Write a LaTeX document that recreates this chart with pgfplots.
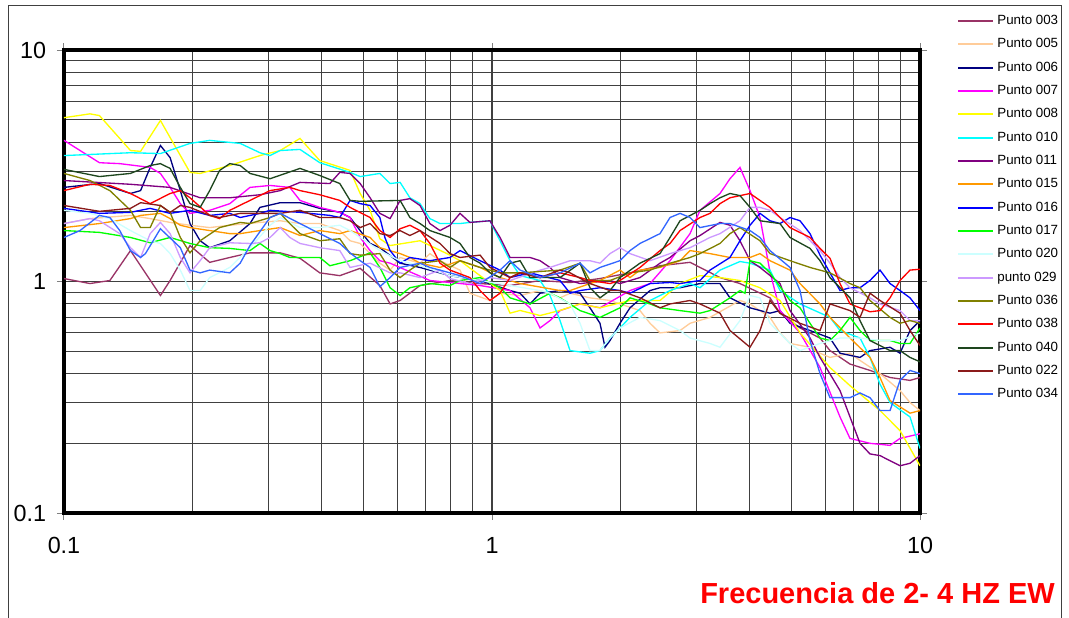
\documentclass[border=0pt]{standalone}
\usepackage{fontspec}
\setmainfont{Liberation Sans}
\usepackage{pgfplots}
\pgfplotsset{compat=1.18}
\definecolor{c003}{RGB}{153,51,102}
\definecolor{c005}{RGB}{255,204,153}
\definecolor{c006}{RGB}{0,0,128}
\definecolor{c007}{RGB}{255,0,255}
\definecolor{c008}{RGB}{255,255,0}
\definecolor{c010}{RGB}{0,255,255}
\definecolor{c011}{RGB}{128,0,128}
\definecolor{c015}{RGB}{255,153,0}
\definecolor{c016}{RGB}{0,0,255}
\definecolor{c017}{RGB}{0,255,0}
\definecolor{c020}{RGB}{204,255,255}
\definecolor{c029}{RGB}{204,153,255}
\definecolor{c036}{RGB}{128,128,0}
\definecolor{c038}{RGB}{255,0,0}
\definecolor{c040}{RGB}{30,70,30}
\definecolor{c022}{RGB}{139,26,26}
\definecolor{c034}{RGB}{51,102,255}
\begin{document}
\begin{tikzpicture}
\useasboundingbox (0,0) rectangle (801.75pt,-462.75pt);
\draw[black!75, line width=0.75pt] (6pt,-480pt) -- (6pt,-4pt) -- (795.75pt,-4pt) -- (795.75pt,-480pt);
\begin{axis}[
  at={(48pt,-384.75pt)}, anchor=south west,
  scale only axis, width=642pt, height=347.25pt,
  xmode=log, ymode=log,
  xmin=0.1, xmax=10, ymin=0.1, ymax=10,
  xtick={0.1,1,10}, xticklabels={0.1,1,10},
  ytick={0.1,1,10}, yticklabels={0.1,1,10},
  minor xtick={0.2,0.3,0.4,0.5,0.6,0.7,0.8,0.9,2,3,4,5,6,7,8,9},
  minor ytick={0.2,0.3,0.4,0.5,0.6,0.7,0.8,0.9,2,3,4,5,6,7,8,9},
  grid=both,
  major grid style={black!75, line width=0.8pt},
  minor grid style={black!75, line width=0.8pt},
  axis line style={line width=2.6pt},
  tick align=outside, major tick length=5.25pt, minor tick length=0pt,
  tick style={gray, line width=0.75pt},
  ticklabel style={font=\fontsize{17.5}{20}\selectfont, inner sep=0pt},
  /pgf/number format/assume math mode=true,
  xticklabel style={anchor=north, yshift=-13pt},
  yticklabel style={anchor=east, xshift=-8pt},
  legend cell align=left,
  legend style={draw=none, fill=none, at={(axis description cs:1.0388,1)}, anchor=north west, yshift=28.75pt,
    font=\fontsize{10}{12}\selectfont, row sep=8pt, column sep=2.25pt,
    nodes={inner sep=0pt, text height=7.5pt, text depth=2pt}},
  legend image code/.code={\draw[#1, line width=1.4pt] (0pt,0pt) -- (26.25pt,0pt);},
  every axis plot/.append style={line width=1pt},
]
\addplot[c003] coordinates {(0.1,1.03)(0.115,0.98)(0.128,1.01)(0.143,1.36)(0.168,0.87)(0.177,1.01)(0.197,1.43)(0.219,1.21)(0.244,1.27)(0.272,1.33)(0.32,1.33)(0.356,1.26)(0.396,1.09)(0.441,1.06)(0.492,1.14)(0.547,0.961)(0.578,0.8)(0.61,0.828)(0.679,0.961)(0.798,1.01)(0.938,0.98)(1.102,0.961)(1.295,1.01)(1.522,0.99)(1.788,1.03)(2.101,1.09)(2.469,1.17)(2.902,1.21)(3.41,1.04)(3.797,0.98)(4.462,0.85)(4.709,0.73)(5.244,0.63)(5.84,0.57)(6.162,0.503)(6.862,0.44)(7.642,0.413)(8.511,0.385)(9.477,0.374)(10,0.385)};
\addlegendentry{Punto 003}
\addplot[c005] coordinates {(0.1,1.78)(0.115,1.87)(0.143,1.93)(0.159,1.87)(0.177,1.80)(0.197,1.75)(0.219,1.71)(0.244,1.75)(0.287,1.80)(0.32,1.83)(0.356,1.78)(0.396,1.78)(0.441,1.66)(0.466,1.50)(0.492,1.46)(0.547,1.20)(0.578,1.12)(0.61,1.27)(0.679,1.20)(0.716,1.32)(0.756,1.23)(0.842,1.12)(0.888,0.89)(0.989,0.828)(1.044,0.89)(1.163,0.87)(1.295,0.914)(1.442,0.85)(1.522,0.89)(1.694,0.85)(1.887,0.828)(1.991,0.80)(2.217,0.749)(2.34,0.66)(2.469,0.60)(2.75,0.614)(2.902,0.66)(3.231,0.70)(3.797,0.828)(4.007,0.80)(4.462,0.70)(4.709,0.60)(4.969,0.54)(5.534,0.52)(5.84,0.49)(6.162,0.47)(6.862,0.49)(7.242,0.456)(8.065,0.40)(8.981,0.338)(9.477,0.30)(10,0.277)};
\addlegendentry{Punto 005}
\addplot[c006] coordinates {(0.1,2.55)(0.121,2.65)(0.143,2.40)(0.151,2.47)(0.159,3.11)(0.168,3.87)(0.177,3.43)(0.187,2.47)(0.197,1.78)(0.208,1.50)(0.219,1.40)(0.244,1.50)(0.272,1.78)(0.287,2.09)(0.32,2.19)(0.356,2.19)(0.396,2.07)(0.441,1.99)(0.466,1.89)(0.492,1.66)(0.519,1.46)(0.547,1.40)(0.61,1.20)(0.679,1.15)(0.798,1.06)(0.938,1.01)(1.102,0.914)(1.163,0.89)(1.227,0.80)(1.295,0.89)(1.442,0.914)(1.606,0.89)(1.694,0.77)(1.788,0.66)(1.837,0.52)(1.887,0.556)(1.991,0.66)(2.101,0.77)(2.34,0.914)(2.469,0.94)(2.75,0.94)(3.062,0.98)(3.41,0.98)(3.598,0.85)(4.007,0.77)(4.462,0.73)(4.709,0.749)(4.969,0.66)(5.534,0.614)(6.162,0.57)(6.503,0.49)(7.242,0.47)(7.642,0.503)(8.511,0.52)(8.981,0.49)(9.477,0.614)(10,0.678)};
\addlegendentry{Punto 006}
\addplot[c007] coordinates {(0.1,4.07)(0.121,3.26)(0.135,3.23)(0.159,3.11)(0.168,2.93)(0.177,2.55)(0.187,2.17)(0.197,1.97)(0.219,2.03)(0.244,2.17)(0.272,2.55)(0.303,2.60)(0.337,2.55)(0.356,2.24)(0.396,2.09)(0.441,1.99)(0.466,1.89)(0.492,1.55)(0.519,1.36)(0.547,1.23)(0.578,1.20)(0.716,1.01)(0.798,0.99)(0.938,0.961)(1.102,0.914)(1.227,0.77)(1.295,0.63)(1.366,0.678)(1.442,0.749)(1.606,0.80)(1.788,0.77)(2.101,0.914)(2.34,0.98)(2.606,1.23)(2.902,1.61)(3.062,2.03)(3.41,2.40)(3.598,2.78)(3.797,3.11)(4.007,2.47)(4.228,1.89)(4.462,1.1)(4.709,0.749)(5.244,0.60)(5.84,0.425)(6.503,0.26)(6.862,0.21)(7.642,0.20)(8.511,0.196)(8.981,0.21)(10,0.22)};
\addlegendentry{Punto 007}
\addplot[c008] coordinates {(0.1,5.1)(0.115,5.3)(0.121,5.21)(0.143,3.68)(0.151,3.65)(0.168,4.96)(0.197,2.96)(0.208,2.93)(0.244,3.17)(0.287,3.50)(0.32,3.68)(0.356,4.15)(0.396,3.33)(0.466,3.02)(0.492,2.40)(0.519,2.03)(0.547,1.53)(0.578,1.43)(0.679,1.50)(0.798,1.30)(0.842,1.23)(0.938,1.06)(1.044,0.914)(1.102,0.73)(1.163,0.75)(1.295,0.713)(1.442,0.75)(1.606,0.80)(1.788,0.77)(2.101,0.828)(2.469,0.828)(2.75,0.98)(3.062,1.06)(3.41,1.04)(3.797,1.01)(4.228,0.94)(4.709,0.828)(5.244,0.60)(6.162,0.425)(6.862,0.355)(8.065,0.277)(8.981,0.227)(10,0.16)};
\addlegendentry{Punto 008}
\addplot[c010] coordinates {(0.1,3.50)(0.143,3.60)(0.168,3.57)(0.197,3.95)(0.219,4.07)(0.258,3.95)(0.287,3.60)(0.303,3.50)(0.32,3.68)(0.356,3.72)(0.396,3.26)(0.466,2.96)(0.492,2.84)(0.547,2.93)(0.578,2.65)(0.61,2.68)(0.643,2.30)(0.679,2.17)(0.716,1.87)(0.756,1.78)(0.842,1.78)(0.888,1.80)(0.989,1.83)(1.044,1.50)(1.102,1.23)(1.163,1.06)(1.295,1.01)(1.366,0.87)(1.442,0.678)(1.522,0.503)(1.694,0.49)(1.788,0.503)(1.887,0.57)(1.991,0.63)(2.101,0.70)(2.34,0.828)(2.606,0.914)(2.902,0.98)(3.062,0.94)(3.41,1.12)(3.797,1.22)(4.007,1.20)(4.462,1.12)(4.709,0.914)(5.244,0.80)(6.162,0.70)(6.503,0.614)(7.242,0.57)(7.642,0.47)(8.065,0.36)(8.511,0.30)(9.477,0.26)(10,0.19)};
\addlegendentry{Punto 010}
\addplot[c011] coordinates {(0.1,2.73)(0.143,2.63)(0.177,2.55)(0.208,2.30)(0.244,2.30)(0.287,2.37)(0.32,2.47)(0.356,2.68)(0.418,2.65)(0.441,2.96)(0.466,2.93)(0.492,2.65)(0.519,2.30)(0.547,1.97)(0.578,1.87)(0.61,2.24)(0.643,2.28)(0.679,2.13)(0.716,1.78)(0.756,1.66)(0.798,1.75)(0.842,1.97)(0.888,1.80)(0.989,1.83)(1.044,1.55)(1.102,1.27)(1.227,1.27)(1.295,1.23)(1.366,1.15)(1.442,1.04)(1.606,0.98)(1.887,1.01)(1.991,0.98)(2.217,1.04)(2.469,1.20)(2.606,1.27)(2.902,1.50)(3.062,1.58)(3.41,1.80)(3.598,1.75)(3.797,1.50)(4.007,1.23)(4.228,1.15)(4.709,0.98)(4.969,0.749)(5.534,0.57)(5.84,0.47)(6.503,0.338)(6.862,0.26)(7.242,0.20)(7.642,0.18)(8.065,0.177)(8.981,0.16)(9.477,0.164)(10,0.177)};
\addlegendentry{Punto 011}
\addplot[c015] coordinates {(0.1,1.71)(0.121,1.78)(0.143,1.87)(0.151,1.93)(0.168,1.97)(0.177,1.87)(0.187,1.75)(0.197,1.71)(0.219,1.66)(0.244,1.61)(0.258,1.61)(0.287,1.66)(0.32,1.71)(0.356,1.58)(0.396,1.66)(0.441,1.61)(0.466,1.66)(0.519,1.55)(0.547,1.40)(0.61,1.32)(0.643,1.27)(0.679,1.20)(0.756,1.15)(0.842,1.23)(0.938,1.15)(1.044,1.04)(1.163,0.98)(1.442,0.914)(1.522,0.914)(1.694,0.98)(1.788,1.01)(1.991,1.12)(2.101,1.04)(2.217,1.12)(2.469,1.15)(2.75,1.23)(2.902,1.36)(3.231,1.32)(3.598,1.27)(4.007,1.27)(4.228,1.32)(4.462,1.23)(4.969,1.12)(5.244,0.98)(5.84,0.80)(6.162,0.70)(6.862,0.57)(7.642,0.47)(8.065,0.385)(8.511,0.306)(9.477,0.27)(10,0.277)};
\addlegendentry{Punto 015}
\addplot[c016] coordinates {(0.1,2.07)(0.121,1.97)(0.143,1.99)(0.159,2.07)(0.177,1.97)(0.197,2.03)(0.219,1.93)(0.244,1.97)(0.258,1.89)(0.287,1.97)(0.303,2.03)(0.356,1.99)(0.418,1.93)(0.441,1.89)(0.466,2.24)(0.492,2.17)(0.519,2.13)(0.547,1.89)(0.562,1.55)(0.578,1.36)(0.61,1.20)(0.643,1.27)(0.716,1.23)(0.798,1.27)(0.842,1.36)(0.938,1.23)(1.044,1.12)(1.102,1.04)(1.227,1.09)(1.442,1.01)(1.522,0.89)(1.606,0.914)(1.788,0.94)(1.991,0.914)(2.101,0.89)(2.34,0.98)(2.606,0.99)(2.75,0.98)(3.062,1.01)(3.231,1.12)(3.598,1.27)(3.797,1.50)(4.007,1.75)(4.228,1.97)(4.462,1.83)(4.709,1.78)(4.969,1.89)(5.244,1.83)(5.534,1.61)(5.84,1.30)(6.162,1.09)(6.503,0.914)(6.862,0.94)(7.242,0.94)(7.642,1.01)(8.065,1.12)(8.511,0.98)(8.981,0.914)(9.477,0.85)(10,0.749)};
\addlegendentry{Punto 016}
\addplot[c017] coordinates {(0.1,1.66)(0.121,1.63)(0.143,1.55)(0.159,1.47)(0.177,1.55)(0.197,1.46)(0.219,1.40)(0.244,1.39)(0.272,1.36)(0.287,1.46)(0.303,1.36)(0.32,1.32)(0.337,1.27)(0.396,1.27)(0.418,1.17)(0.466,1.23)(0.519,1.33)(0.547,1.15)(0.578,0.94)(0.61,0.87)(0.643,0.94)(0.716,0.98)(0.798,0.961)(0.842,1.01)(0.938,1.04)(1.044,0.94)(1.102,0.85)(1.227,0.80)(1.366,0.89)(1.442,0.85)(1.606,0.749)(1.788,0.70)(1.991,0.77)(2.101,0.85)(2.34,0.80)(2.469,0.77)(2.75,0.749)(3.062,0.73)(3.231,0.749)(3.598,0.85)(3.797,0.914)(3.9,0.89)(4.007,1.23)(4.228,1.20)(4.462,1.09)(4.969,0.828)(5.244,0.77)(5.534,0.66)(5.84,0.57)(6.162,0.556)(6.503,0.614)(6.862,0.70)(7.242,0.614)(7.642,0.556)(8.511,0.556)(8.981,0.54)(9.477,0.54)(10,0.63)};
\addlegendentry{Punto 017}
\addplot[c020] coordinates {(0.1,2.03)(0.115,1.97)(0.128,1.87)(0.143,1.66)(0.159,1.50)(0.168,1.46)(0.177,1.32)(0.187,1.12)(0.197,0.914)(0.208,0.914)(0.219,1.04)(0.244,1.15)(0.272,1.40)(0.303,1.75)(0.32,1.89)(0.356,1.71)(0.396,1.71)(0.441,1.75)(0.466,1.66)(0.492,1.55)(0.547,1.36)(0.61,1.23)(0.679,1.17)(0.798,1.06)(0.938,1.01)(1.102,0.961)(1.295,0.914)(1.366,0.89)(1.522,0.80)(1.606,0.66)(1.694,0.503)(1.788,0.503)(1.887,0.57)(1.991,0.63)(2.217,0.70)(2.469,0.678)(2.75,0.614)(2.902,0.57)(3.231,0.54)(3.41,0.52)(3.797,0.678)(4.007,0.87)(4.228,0.85)(4.462,0.66)(4.969,0.54)(5.244,0.503)(5.84,0.54)(6.503,0.57)(7.242,0.57)(8.065,0.556)(8.981,0.556)(10,0.60)};
\addlegendentry{Punto 020}
\addplot[c029] coordinates {(0.1,1.78)(0.115,1.87)(0.121,1.83)(0.135,1.61)(0.143,1.40)(0.151,1.27)(0.159,1.61)(0.168,1.80)(0.177,1.61)(0.187,1.27)(0.197,1.09)(0.208,1.23)(0.219,1.40)(0.244,1.47)(0.272,1.46)(0.287,1.47)(0.303,1.55)(0.32,1.71)(0.337,1.55)(0.356,1.46)(0.396,1.40)(0.441,1.36)(0.466,1.15)(0.519,1.20)(0.578,1.09)(0.61,1.09)(0.679,1.04)(0.756,1.12)(0.798,1.03)(0.888,0.98)(0.989,1.04)(1.102,1.01)(1.295,1.12)(1.366,1.15)(1.522,1.23)(1.694,1.23)(1.788,1.20)(1.887,1.32)(1.991,1.40)(2.101,1.32)(2.34,1.23)(2.606,1.32)(2.902,1.40)(3.231,1.55)(3.41,1.61)(3.797,1.83)(4.007,2.09)(4.228,2.09)(4.462,2.03)(4.709,1.89)(5.244,1.66)(5.84,1.36)(6.162,1.20)(6.503,1.04)(6.862,0.94)(7.642,0.85)(8.065,0.80)(8.981,0.749)(9.477,0.678)(10,0.678)};
\addlegendentry{punto 029}
\addplot[c036] coordinates {(0.1,2.93)(0.115,2.73)(0.128,2.47)(0.143,2.03)(0.151,1.71)(0.159,1.71)(0.168,2.13)(0.177,1.99)(0.187,1.55)(0.197,1.33)(0.208,1.50)(0.231,1.71)(0.258,1.80)(0.272,1.78)(0.303,1.89)(0.32,1.97)(0.337,1.78)(0.356,1.61)(0.396,1.50)(0.441,1.53)(0.466,1.32)(0.492,1.30)(0.547,1.32)(0.578,1.12)(0.61,1.04)(0.643,1.12)(0.679,1.20)(0.756,1.23)(0.798,1.15)(0.842,1.23)(0.938,1.15)(1.044,1.09)(1.163,1.09)(1.442,1.12)(1.606,1.20)(1.694,1.01)(1.887,1.01)(2.101,1.09)(2.34,1.12)(2.606,1.20)(2.902,1.27)(3.062,1.32)(3.41,1.46)(3.598,1.61)(3.797,1.71)(4.228,1.50)(4.462,1.32)(4.969,1.23)(5.534,1.15)(6.162,1.09)(6.862,0.98)(7.242,0.94)(7.642,0.828)(8.511,0.70)(8.981,0.66)(9.477,0.678)(10,0.66)};
\addlegendentry{Punto 036}
\addplot[c038] coordinates {(0.1,2.47)(0.115,2.63)(0.128,2.60)(0.143,2.40)(0.159,2.17)(0.177,2.40)(0.187,2.47)(0.197,2.30)(0.219,1.93)(0.231,1.87)(0.244,2.03)(0.272,2.24)(0.303,2.47)(0.337,2.55)(0.356,2.47)(0.396,2.37)(0.441,2.24)(0.466,2.09)(0.519,1.89)(0.547,1.66)(0.578,1.55)(0.61,1.69)(0.643,1.75)(0.679,1.66)(0.716,1.46)(0.756,1.20)(0.798,1.12)(0.888,1.04)(0.938,0.914)(0.989,0.828)(1.044,0.89)(1.102,1.04)(1.163,1.09)(1.295,1.04)(1.442,1.09)(1.606,1.04)(1.694,1.01)(1.887,0.98)(1.991,1.01)(2.217,1.15)(2.469,1.36)(2.606,1.46)(2.75,1.66)(3.062,1.89)(3.231,1.97)(3.41,2.17)(3.598,2.30)(4.007,2.40)(4.228,2.24)(4.462,2.09)(4.709,1.89)(4.969,1.71)(5.534,1.55)(5.84,1.39)(6.162,1.26)(6.503,0.98)(6.862,0.80)(7.642,0.74)(8.065,0.749)(8.511,0.85)(8.981,1.01)(9.477,1.12)(10,1.13)};
\addlegendentry{Punto 038}
\addplot[c040] coordinates {(0.1,3.05)(0.121,2.84)(0.143,2.93)(0.159,3.17)(0.168,3.23)(0.177,3.08)(0.187,2.55)(0.197,2.17)(0.208,2.09)(0.219,2.47)(0.231,3.02)(0.244,3.23)(0.258,3.17)(0.272,2.93)(0.303,2.78)(0.356,3.08)(0.396,2.87)(0.441,2.65)(0.466,2.24)(0.492,2.22)(0.61,2.24)(0.643,1.89)(0.679,1.78)(0.716,1.66)(0.798,1.55)(0.842,1.46)(0.888,1.27)(0.938,1.20)(0.989,1.09)(1.044,1.04)(1.102,1.20)(1.163,1.23)(1.227,1.04)(1.442,1.04)(1.606,1.20)(1.694,0.94)(1.788,0.85)(1.887,0.914)(1.991,1.04)(2.217,1.20)(2.469,1.32)(2.606,1.55)(2.75,1.83)(3.062,2.03)(3.231,2.17)(3.41,2.30)(3.598,2.40)(3.797,2.35)(4.007,2.09)(4.228,1.83)(4.709,1.78)(4.969,1.55)(5.534,1.39)(5.84,1.23)(6.162,1.04)(6.862,0.85)(7.242,0.678)(7.642,0.556)(8.511,0.503)(8.981,0.503)(9.477,0.47)(10,0.45)};
\addlegendentry{Punto 040}
\addplot[c022] coordinates {(0.1,2.13)(0.121,2.01)(0.143,2.07)(0.151,2.19)(0.168,2.13)(0.177,1.99)(0.187,2.13)(0.197,2.09)(0.219,1.93)(0.231,1.89)(0.258,1.97)(0.32,1.97)(0.356,2.03)(0.396,1.89)(0.441,1.89)(0.466,1.83)(0.492,1.71)(0.519,1.78)(0.547,1.61)(0.578,1.58)(0.61,1.66)(0.643,1.58)(0.679,1.66)(0.756,1.46)(0.798,1.32)(0.842,1.27)(0.938,1.30)(0.989,1.15)(1.102,1.04)(1.163,1.09)(1.295,1.04)(1.442,1.12)(1.522,1.09)(1.694,0.98)(1.887,0.914)(1.991,0.914)(2.217,0.85)(2.469,0.77)(2.606,0.80)(2.902,0.828)(3.062,0.80)(3.41,0.73)(3.598,0.614)(4.007,0.52)(4.228,0.614)(4.462,0.828)(4.709,0.73)(5.244,0.66)(5.84,0.614)(6.162,0.80)(6.862,0.749)(7.242,0.70)(7.642,0.89)(8.065,0.828)(8.981,0.73)(9.477,0.614)(10,0.529)};
\addlegendentry{Punto 022}
\addplot[c034] coordinates {(0.1,1.55)(0.109,1.66)(0.121,1.93)(0.128,1.89)(0.135,1.66)(0.143,1.36)(0.151,1.27)(0.155,1.32)(0.168,1.69)(0.187,1.40)(0.197,1.12)(0.208,1.09)(0.219,1.12)(0.244,1.09)(0.258,1.20)(0.272,1.43)(0.303,1.89)(0.32,1.97)(0.356,1.78)(0.396,1.61)(0.441,1.46)(0.466,1.33)(0.492,1.23)(0.519,1.15)(0.547,0.95)(0.578,1.04)(0.61,1.15)(0.679,1.20)(0.716,1.15)(0.756,1.12)(0.842,1.06)(0.938,0.98)(1.044,1.12)(1.102,1.23)(1.163,1.12)(1.295,1.04)(1.442,1.09)(1.606,1.20)(1.694,1.09)(1.788,1.15)(1.991,1.23)(2.101,1.36)(2.217,1.46)(2.469,1.61)(2.606,1.89)(2.75,1.97)(2.902,1.89)(3.062,1.71)(3.41,1.78)(3.598,1.78)(4.007,1.66)(4.228,1.55)(4.462,1.36)(4.969,1.15)(5.244,0.914)(5.534,0.556)(5.84,0.40)(6.162,0.315)(6.862,0.315)(7.242,0.33)(7.642,0.315)(8.065,0.277)(8.511,0.277)(8.981,0.374)(9.477,0.413)(10,0.40)};
\addlegendentry{Punto 034}
\end{axis}
\node[anchor=base west, inner sep=0pt, text=red, font=\bfseries\fontsize{21.75}{24}\selectfont] at (525pt,-452.25pt) {Frecuencia de 2- 4 HZ EW};
\end{tikzpicture}
\end{document}
